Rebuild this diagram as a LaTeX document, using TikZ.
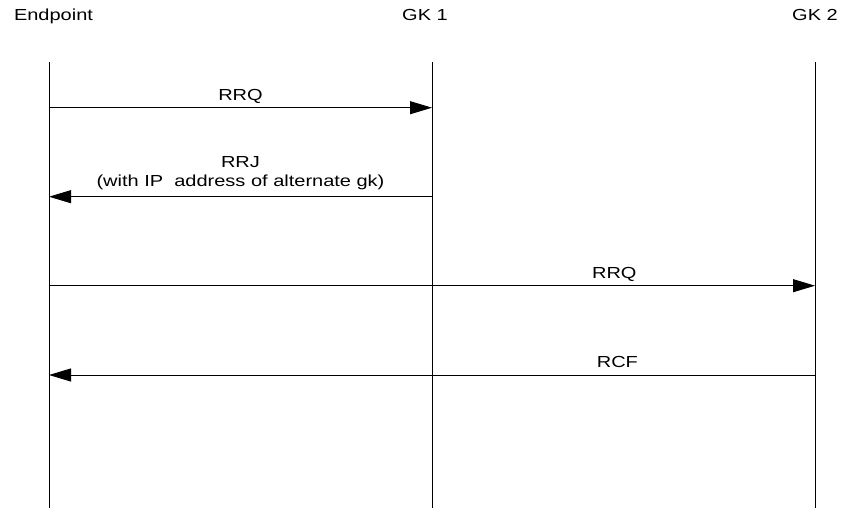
\documentclass[tikz,border=0pt]{standalone}
\usepackage{fontspec}
\setmainfont{Liberation Sans}[FakeStretch=1.25]
\usetikzlibrary{arrows.meta}
\tikzset{
  head/.style={font=\fontsize{16}{19}\selectfont, inner sep=0pt, anchor=base},
  lbl/.style={font=\fontsize{16}{19}\selectfont, inner sep=0pt, anchor=base, yshift=7.7pt},
  life/.style={line width=0.9pt},
  msg/.style={line width=0.9pt, -{Triangle[length=22pt,width=13pt]}}
}
\begin{document}
\begin{tikzpicture}[x=1pt,y=-1pt]
      \useasboundingbox (0,0) rectangle (842,508);
      \draw
        (53.5,20.7) node[head] (ep){Endpoint}
        (425,20.7) node[head] (gk1){GK 1}
        (815,20.7) node[head] (gk2){GK 2};
      \coordinate (ep top) at (49,62);
      \coordinate (ep bot) at (49,508);
      \coordinate (gk1 top) at (432,62);
      \coordinate (gk1 bot) at (432,508);
      \coordinate (gk2 top) at (815,62);
      \coordinate (gk2 bot) at (815,508);
      % lifelines
      \begin{scope}[life]
        \draw (ep top) to (ep bot);
        \draw (gk1 top) to (gk1 bot);
        \draw (gk2 top) to (gk2 bot);
      \end{scope}
      \coordinate (ep1) at (49,107.7);
      \coordinate (gk11) at (432,107.7);
      \coordinate (ep2) at (49,196.7);
      \coordinate (gk12) at (432,196.7);
      \coordinate (ep3) at (49,285.7);
      \coordinate (gk23) at (815,285.7);
      \coordinate (ep4) at (49,375);
      \coordinate (gk24) at (815,375);
      % messages
      \begin{scope}[msg]
        \draw (ep1) to node[lbl] (rrq1){RRQ} (gk11);
        \draw (gk12) to node[lbl, anchor=south, yshift=-1.7pt, align=center] (rrj){RRJ\\(with IP\ \ address of alternate gk)} (ep2);
        \draw (ep3) to node[lbl, pos=0.738] (rrq2){RRQ} (gk23);
        \draw (gk24) to node[lbl, pos=0.258] (rcf){RCF} (ep4);
      \end{scope}
    \end{tikzpicture}
\end{document}
